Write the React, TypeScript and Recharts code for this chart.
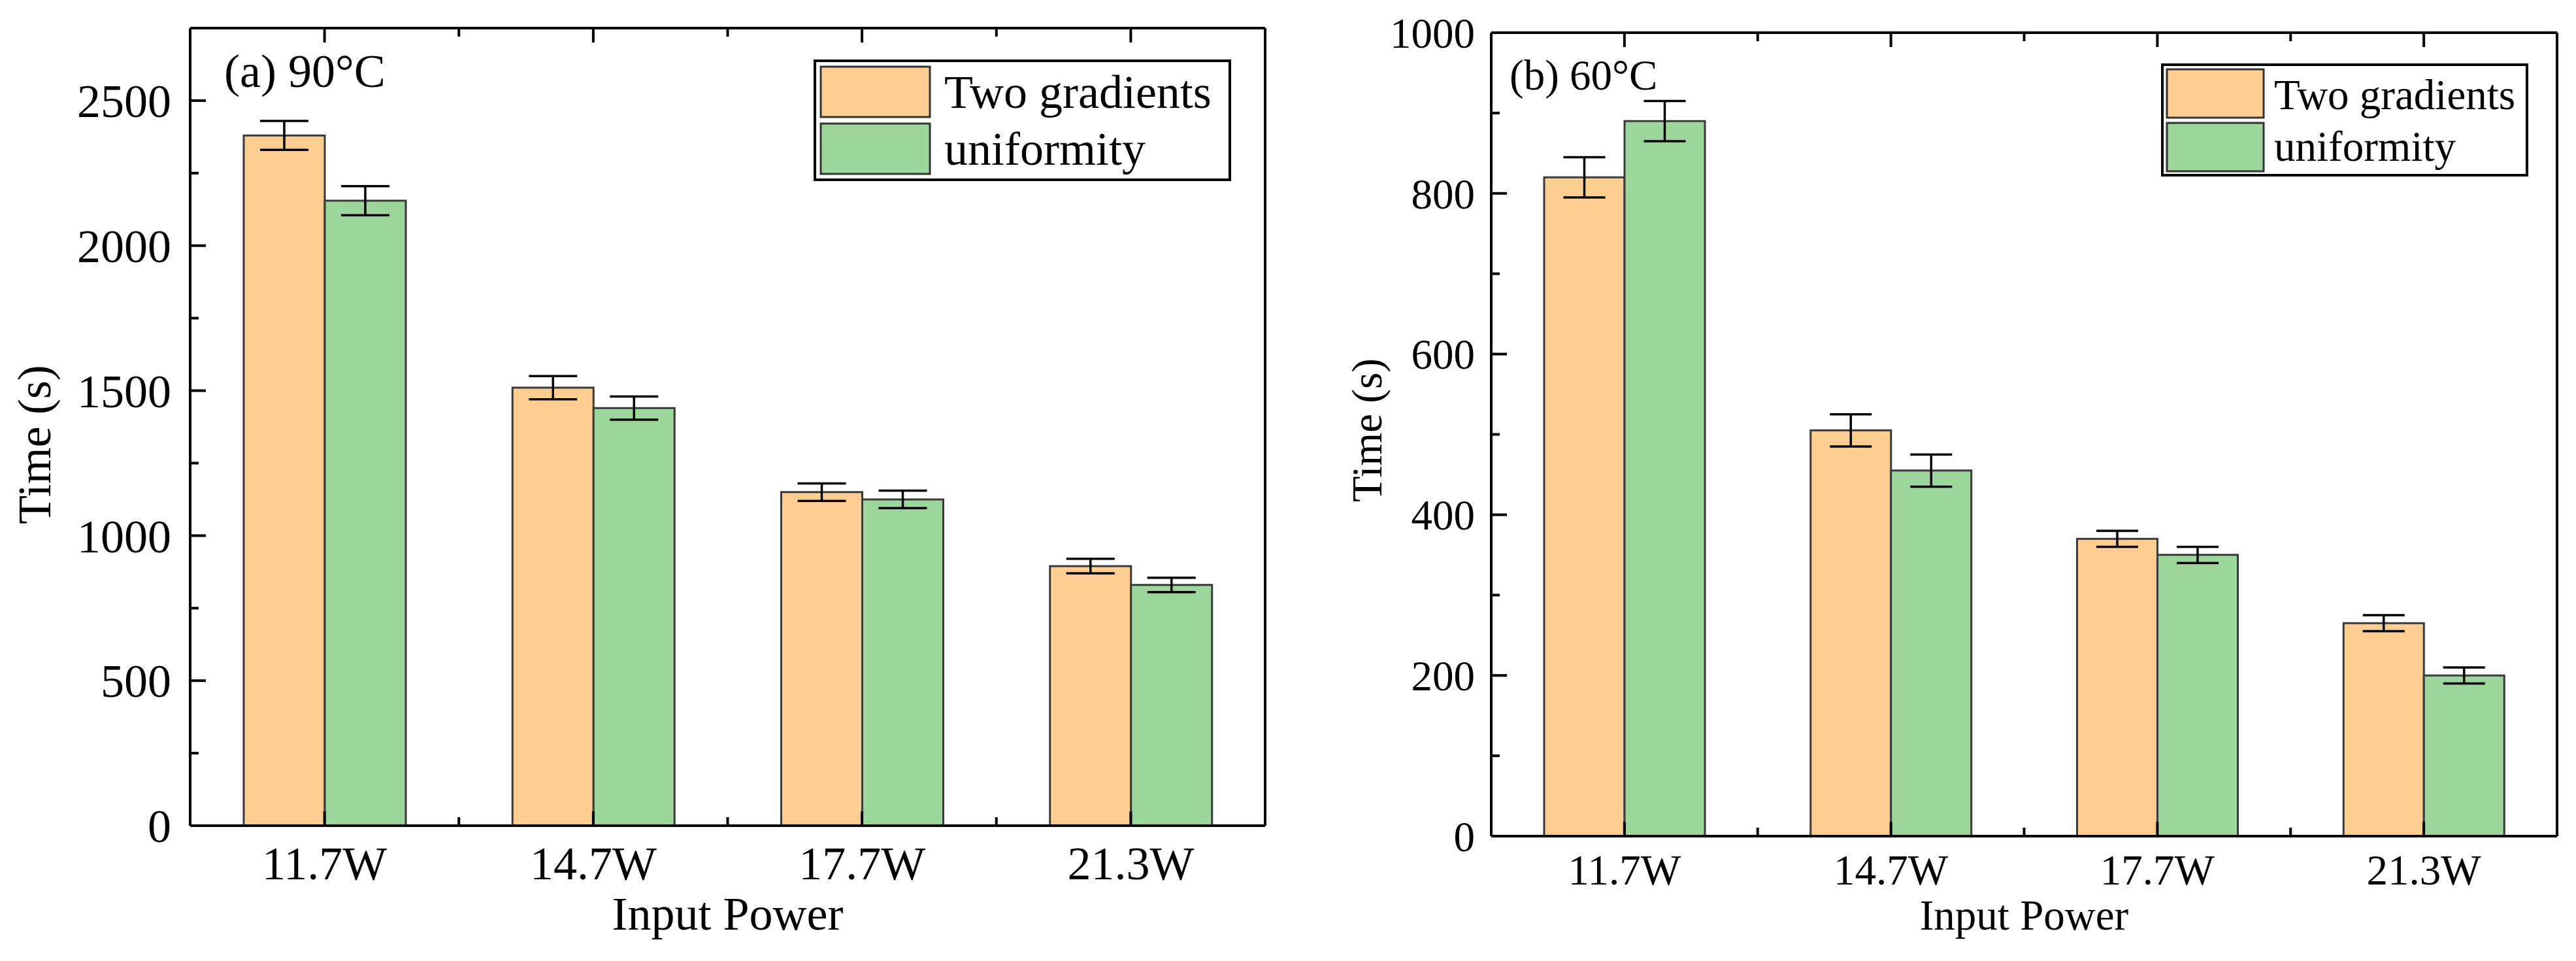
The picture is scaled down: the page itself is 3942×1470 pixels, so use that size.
import React from 'react';
import { BarChart, Bar, XAxis, YAxis, ErrorBar, Legend } from 'recharts';

const categories = ['11.7W', '14.7W', '17.7W', '21.3W'];

// (a) 90°C
const twoGrad90 = [2380, 1510, 1150, 895];
const twoGrad90Err = [50, 40, 30, 25];
const uniform90 = [2155, 1440, 1125, 830];
const uniform90Err = [50, 40, 30, 25];
const ticks90 = [0, 250, 500, 750, 1000, 1250, 1500, 1750, 2000, 2250, 2500, 2750];

// (b) 60°C
const twoGrad60 = [820, 505, 370, 265];
const twoGrad60Err = [25, 20, 10, 10];
const uniform60 = [890, 455, 350, 200];
const uniform60Err = [25, 20, 10, 10];
const ticks60 = [0, 100, 200, 300, 400, 500, 600, 700, 800, 900, 1000];

const seriesNames = ['Two gradients', 'uniformity'];
const ORANGE = '#FECD92';
const GREEN = '#9DD69B';
const SERIF = '"Liberation Serif", "Times New Roman", serif';
const AX = 1; // size given to each axis box

function YTick(props: any) {
  const { x, y, payload, side, labelStep, fontSize, gap } = props;
  const v = payload.value;
  const major = v % labelStep === 0;
  const dir = side === 'right' ? -1 : 1;
  const len = major ? 24 : 13;
  return (
    <g>
      <line x1={x} x2={x + dir * len} y1={y} y2={y} stroke="#000" strokeWidth={4} />
      {side === 'left' && major && (
        <text x={x - gap} y={y} dy="0.35em" textAnchor="end" fontSize={fontSize} fontFamily={SERIF} fill="#000">
          {v}
        </text>
      )}
    </g>
  );
}

function XTick(props: any) {
  const { x, y, payload, side, band, fontSize, labelDy } = props;
  const dir = side === 'bottom' ? -1 : 1;
  return (
    <g>
      <line x1={x} x2={x} y1={y} y2={y + dir * 22} stroke="#000" strokeWidth={4} />
      <line x1={x + band / 2} x2={x + band / 2} y1={y} y2={y + dir * 13} stroke="#000" strokeWidth={4} />
      {side === 'bottom' && (
        <text x={x} y={y + labelDy} textAnchor="middle" fontSize={fontSize} fontFamily={SERIF} fill="#000">
          {payload.value}
        </text>
      )}
    </g>
  );
}

function LegendBox(props: any) {
  const { w, h, sw, swH, swGap, pad, textX, base1, base2, fontSize } = props;
  return (
    <svg width={w} height={h} style={{ display: 'block' }}>
      <rect x={2} y={2} width={w - 4} height={h - 4} fill="#fff" stroke="#000" strokeWidth={4} />
      <rect x={pad} y={pad} width={sw} height={swH} fill={ORANGE} stroke="#333" strokeWidth={3} />
      <rect x={pad} y={pad + swH + swGap} width={sw} height={swH} fill={GREEN} stroke="#333" strokeWidth={3} />
      <text x={textX} y={base1} fontSize={fontSize} fontFamily={SERIF} fill="#000">{seriesNames[0]}</text>
      <text x={textX} y={base2} fontSize={fontSize} fontFamily={SERIF} fill="#000">{seriesNames[1]}</text>
    </svg>
  );
}

function Panel(p: any) {
  const data = categories.map((c, i) => ({
    cat: c,
    two: p.two[i],
    twoErr: p.twoErr[i],
    uni: p.uni[i],
    uniErr: p.uniErr[i],
  }));
  const pl = p.plot; // plot box: left, top, right, bottom
  const margin = {
    left: pl.left - AX,
    top: pl.top - AX,
    right: p.width - pl.right - AX,
    bottom: p.height - pl.bottom - AX,
  };
  const plotW = pl.right - pl.left;
  const band = plotW / categories.length;
  const lg = p.legend;
  const maxY = p.ticks[p.ticks.length - 1];
  return (
    <BarChart width={p.width} height={p.height} data={data} margin={margin} barGap={0} barSize={p.barSize}>
      <XAxis
        dataKey="cat"
        axisLine={{ stroke: '#000', strokeWidth: 4 }}
        tickLine={false}
        tickSize={0}
        tickMargin={0}
        height={AX}
        interval={0}
        tick={<XTick side="bottom" band={band} fontSize={p.fontSize} labelDy={p.xLabelDy} />}
      />
      <XAxis
        dataKey="cat"
        xAxisId="top"
        orientation="top"
        axisLine={{ stroke: '#000', strokeWidth: 4 }}
        tickLine={false}
        tickSize={0}
        tickMargin={0}
        height={AX}
        interval={0}
        tick={<XTick side="top" band={band} />}
      />
      <YAxis
        type="number"
        domain={[0, maxY]}
        ticks={p.ticks}
        axisLine={{ stroke: '#000', strokeWidth: 4 }}
        tickLine={false}
        tickSize={0}
        tickMargin={0}
        width={AX}
        interval={0}
        tick={<YTick side="left" labelStep={p.labelStep} fontSize={p.fontSize} gap={p.tickGap} />}
      />
      <YAxis
        yAxisId="right"
        orientation="right"
        type="number"
        domain={[0, maxY]}
        ticks={p.ticks}
        axisLine={{ stroke: '#000', strokeWidth: 4 }}
        tickLine={false}
        tickSize={0}
        tickMargin={0}
        width={AX}
        interval={0}
        tick={<YTick side="right" labelStep={p.labelStep} />}
      />
      <Bar dataKey="two" name={seriesNames[0]} fill={ORANGE} stroke="#3a3a3a" strokeWidth={3} isAnimationActive={false}>
        <ErrorBar dataKey="twoErr" width={p.capW} stroke="#000" strokeWidth={3.5} isAnimationActive={false} />
      </Bar>
      <Bar dataKey="uni" name={seriesNames[1]} fill={GREEN} stroke="#3a3a3a" strokeWidth={3} isAnimationActive={false}>
        <ErrorBar dataKey="uniErr" width={p.capW} stroke="#000" strokeWidth={3.5} isAnimationActive={false} />
      </Bar>
      <Legend
        layout="vertical"
        align="center"
        verticalAlign="middle"
        wrapperStyle={{ position: 'absolute', left: lg.left, top: lg.top, width: lg.w, height: lg.h }}
        content={() => <LegendBox {...lg} fontSize={p.fontSize} />}
      />
      <text x={p.tagX} y={p.tagY} fontSize={p.fontSize} fontFamily={SERIF} fill="#000">{p.tag}</text>
      <text
        x={p.yTitleX}
        y={p.yTitleY}
        transform={`rotate(-90, ${p.yTitleX}, ${p.yTitleY})`}
        textAnchor="middle"
        dominantBaseline="central"
        fontSize={p.fontSize}
        fontFamily={SERIF}
        fill="#000"
      >
        Time (s)
      </text>
      <text
        x={pl.left + plotW / 2}
        y={pl.bottom + p.xTitleDy}
        textAnchor="middle"
        fontSize={p.fontSize}
        fontFamily={SERIF}
        fill="#000"
      >
        Input Power
      </text>
    </BarChart>
  );
}

export default function App() {
  return (
    <div style={{ position: 'absolute', left: 0, top: 0, width: 3942, height: 1470, background: '#fff' }}>
      <div style={{ position: 'absolute', left: 0, top: 0 }}>
        <Panel
          width={1971}
          height={1470}
          plot={{ left: 291, top: 43, right: 1936, bottom: 1263 }}
          two={twoGrad90}
          twoErr={twoGrad90Err}
          uni={uniform90}
          uniErr={uniform90Err}
          ticks={ticks90}
          labelStep={500}
          barSize={124}
          capW={37}
          fontSize={72}
          tickGap={29}
          xLabelDy={82}
          xTitleDy={159}
          tag="(a) 90°C"
          tagX={343}
          tagY={133}
          yTitleX={53}
          yTitleY={680}
          legend={{ left: 1245, top: 91, w: 639, h: 186, sw: 167, swH: 77, swGap: 10, pad: 11, textX: 200, base1: 74, base2: 161 }}
        />
      </div>
      <div style={{ position: 'absolute', left: 1971, top: 0 }}>
        <Panel
          width={1971}
          height={1470}
          plot={{ left: 311, top: 50, right: 1942, bottom: 1279 }}
          two={twoGrad60}
          twoErr={twoGrad60Err}
          uni={uniform60}
          uniErr={uniform60Err}
          ticks={ticks60}
          labelStep={200}
          barSize={123}
          capW={32}
          fontSize={65}
          tickGap={25}
          xLabelDy={74}
          xTitleDy={143}
          tag="(b) 60°C"
          tagX={339}
          tagY={137}
          yTitleX={121}
          yTitleY={658}
          legend={{ left: 1336, top: 97, w: 562, h: 173, sw: 148, swH: 74, swGap: 8, pad: 9, textX: 173, base1: 70, base2: 149 }}
        />
      </div>
    </div>
  );
}
